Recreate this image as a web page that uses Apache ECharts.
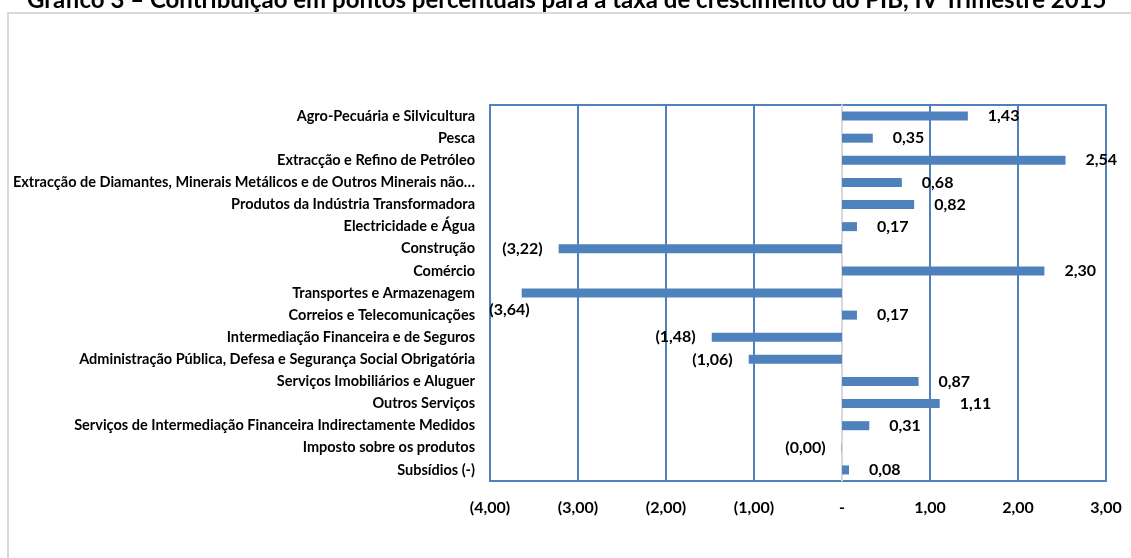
<!DOCTYPE html>
<html>
<head>
<meta charset="utf-8">
<script src="https://cdn.jsdelivr.net/npm/echarts@6/dist/echarts.min.js"></script>
<style>
  html, body { margin: 0; padding: 0; background: #fff; }
  #chart { width: 1131px; height: 558px; }
</style>
</head>
<body>
<div id="chart"></div>
<script>
// categories top to bottom, as in the picture
var sectors = [
  'Agro-Pecuária e Silvicultura',
  'Pesca',
  'Extracção e Refino de Petróleo',
  'Extracção de Diamantes, Minerais Metálicos e de Outros Minerais não…',
  'Produtos da Indústria Transformadora',
  'Electricidade e Água',
  'Construção',
  'Comércio',
  'Transportes e Armazenagem',
  'Correios e Telecomunicações',
  'Intermediação Financeira e de Seguros',
  'Administração Pública, Defesa e Segurança Social Obrigatória',
  'Serviços Imobiliários e Aluguer',
  'Outros Serviços',
  'Serviços de Intermediação Financeira Indirectamente Medidos',
  'Imposto sobre os produtos',
  'Subsídios (-)'
];
// contribution in percentage points
var contrib = [1.43, 0.35, 2.54, 0.68, 0.82, 0.17, -3.22, 2.30, -3.64, 0.17,
  -1.48, -1.06, 0.87, 1.11, 0.31, -0.004, 0.08];
var axisMin = -4, axisMax = 3, axisStep = 1;

var chartTitle = 'Gráfico 3 – Contribuição em pontos percentuais para a taxa de crescimento do PIB, IV Trimestre 2015';

function fmt(v) {
  if (v === 0) return '-';
  var s = Math.abs(v).toFixed(2).replace('.', ',');
  return v < 0 ? '(' + s + ')' : s;
}

var blue = '#4f81bd';
var font = 'Lato, "Open Sans", sans-serif';

var barData = contrib.map(function (v, i) {
  var item = {
    value: v,
    label: { position: v < 0 ? 'left' : 'right', distance: v < 0 ? 16 : 20 }
  };
  // Excel dropped this one label below its bar
  if (i === 8) item.label.offset = [24, 17];
  return item;
});

var splitColors = [];
for (var t = axisMin; t <= axisMax; t += axisStep) {
  splitColors.push(t === 0 ? '#d9d9d9' : blue);
}

var myChart = echarts.init(document.getElementById('chart'));
myChart.setOption({
  animation: false,
  title: {
    text: chartTitle,
    left: 22,
    top: -17,
    textStyle: { fontFamily: font, fontSize: 24, fontWeight: 'bold', color: '#000' }
  },
  graphic: [{
    type: 'rect',
    shape: { x: 8, y: 13, width: 1140, height: 560 },
    style: { fill: null, stroke: '#d9d9d9', lineWidth: 2 },
    silent: true
  }],
  grid: {
    left: 490,
    right: 25,
    top: 105,
    bottom: 77,
    show: true,
    borderColor: blue,
    borderWidth: 2
  },
  xAxis: {
    type: 'value',
    min: axisMin,
    max: axisMax,
    interval: axisStep,
    axisLine: { show: false },
    axisTick: { show: false },
    splitLine: { show: true, lineStyle: { color: splitColors, width: 2 } },
    axisLabel: {
      formatter: fmt,
      margin: 19,
      fontFamily: font,
      fontSize: 16,
      fontWeight: 'bold',
      color: '#000'
    }
  },
  yAxis: {
    type: 'category',
    data: sectors,
    inverse: true,
    axisLine: { show: true, lineStyle: { color: '#d9d9d9', width: 1.5 } },
    axisTick: { show: false },
    axisLabel: {
      margin: 15,
      fontFamily: font,
      fontSize: 14.5,
      fontWeight: 'bold',
      color: '#000'
    }
  },
  series: [{
    type: 'bar',
    data: barData,
    barWidth: 9,
    itemStyle: { color: blue },
    label: {
      show: true,
      formatter: function (p) { return fmt(p.value); },
      fontFamily: font,
      fontSize: 16,
      fontWeight: 'bold',
      color: '#000'
    }
  }]
});
</script>
</body>
</html>
